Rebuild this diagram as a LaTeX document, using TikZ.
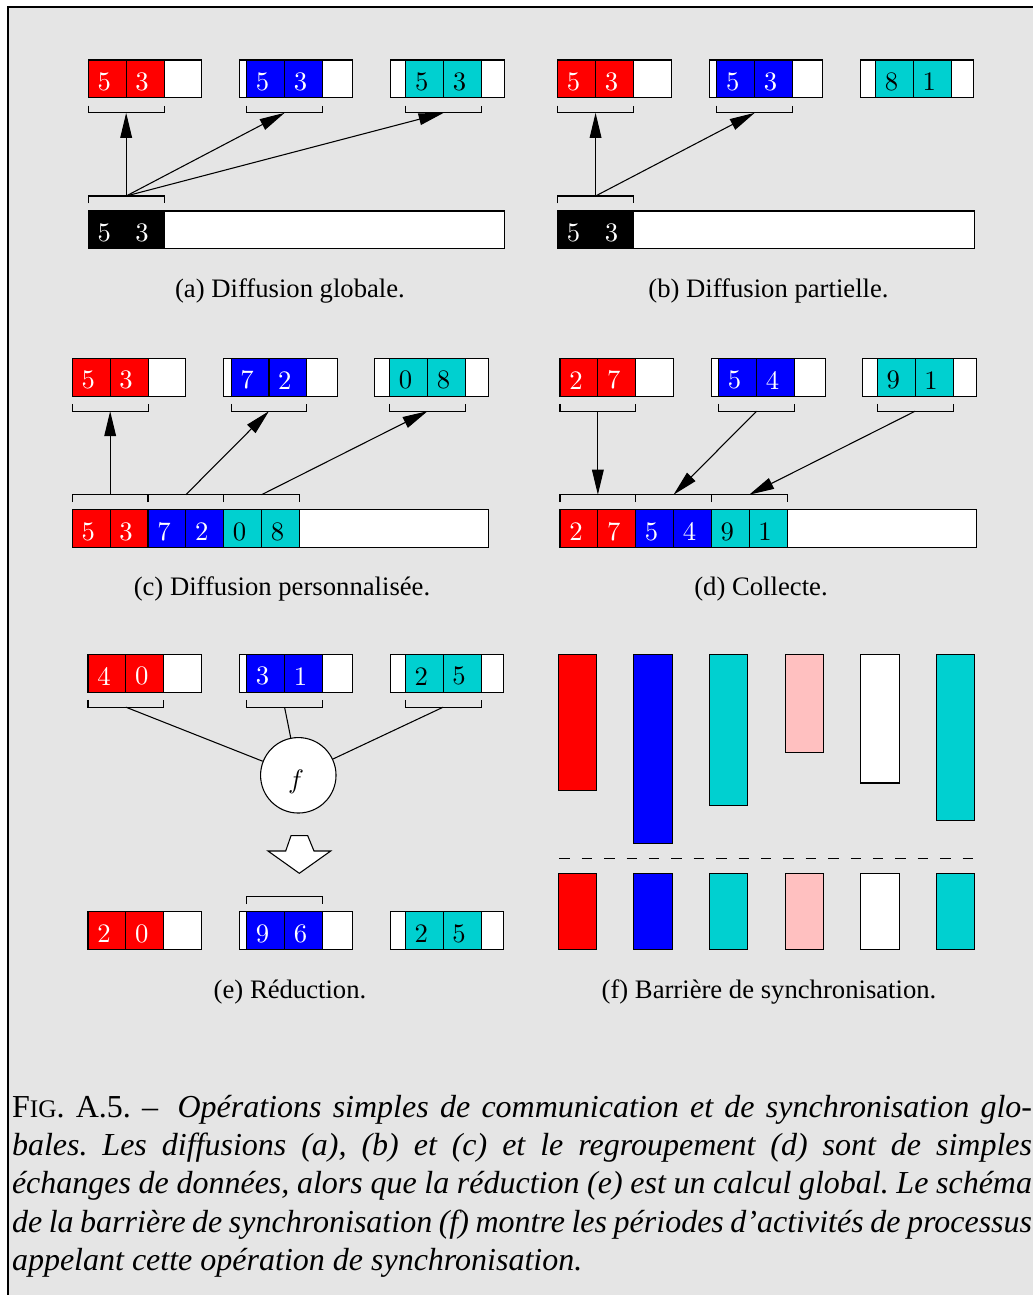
\documentclass[tikz,border=0pt]{standalone}
\usepackage{fontspec}
\setmainfont{Liberation Serif}
\usetikzlibrary{arrows.meta,positioning,calc}
\definecolor{procred}{HTML}{FF0000}
\definecolor{procblue}{HTML}{0000FF}
\definecolor{proccyan}{HTML}{00D0D0}
\definecolor{procpink}{HTML}{FFC0C0}
\definecolor{pagegray}{HTML}{E5E5E5}
\frenchspacing
\newcommand{\digitfont}{\fontfamily{lmr}\fontsize{10}{12}\selectfont}
\tikzset{
  cellbox/.style={draw,minimum width=14.2pt,minimum height=14.2pt,inner sep=0pt,outer sep=0pt,line width=0.4pt},
  bufbox/.style={cellbox,fill=white,minimum width=42.6pt,anchor=north west},
  barbox/.style={cellbox,fill=white,minimum width=156.2pt,anchor=north west},
  digit/.style={fill=none,draw=none,inner sep=0pt,font=\digitfont},
  cred/.style={fill=procred,text=white},
  cblue/.style={fill=procblue,text=white},
  ccyan/.style={fill=proccyan,text=black},
  cblack/.style={fill=black,text=white},
  brk/.style={line width=0.4pt},
  conn/.style={-{Triangle[length=9.4pt,width=4.4pt]},line width=0.4pt},
  subcap/.style={font=\fontsize{10}{12}\selectfont,anchor=base,inner sep=0pt},
  capline/.style={anchor=north west,align=left,inner sep=0pt,font=\fontsize{12}{14.4}\selectfont},
  activity/.style={draw,line width=0.4pt}
}
% two coloured cells with their values
\newcommand{\pair}[6]{%
  \node[cellbox,#4,anchor=north west] (#1a) at (#2,#3) {};
  \node[cellbox,#4,right=0pt of #1a] (#1b) {};
  \node[#4,digit] (#1da) at ($(#1a.center)+(-3,3)$) {#5};
  \node[#4,digit] (#1db) at ($(#1b.center)+(-3,3)$) {#6};
}
% a three-cell buffer holding a pair
\newcommand{\buf}[7]{%
  \node[bufbox] (#1) at (#2,#3) {};
  \pair{#1}{#2+#4}{#3}{#5}{#6}{#7}
}
\newcommand{\brkunder}[3]{%
  \draw[brk] ($(#2.south west)+(0,7.7)$) -- ++(0,7.3) -| ($(#3.south east)+(0,7.7)$);
  \coordinate (#1) at ($(#2.south west)!.5!(#3.south east)+(0,15)$);
}
\newcommand{\brkover}[3]{%
  \draw[brk] ($(#2.north west)+(0,-7.7)$) -- ++(0,-7.3) -| ($(#3.north east)+(0,-7.7)$);
  \coordinate (#1) at ($(#2.north west)!.5!(#3.north east)+(0,-15)$);
}
\begin{document}
\begin{tikzpicture}[x=0.375pt,y=-0.375pt]
  \useasboundingbox (0,0) rectangle (1033,1295);
  \fill[white] (0,0) rectangle (1033,1295);
  \fill[pagegray] (8.2,7) rectangle (1033,1295);
  \draw[line width=0.9pt] (8.2,1295) -- (8.2,7) -- (1033,7);

  % (a)
  \buf{a1}{88.3}{60}{0}{cred}{5}{3}
  \buf{a2}{239.3}{60}{7.4}{cblue}{5}{3}
  \buf{a3}{390.7}{60}{15.1}{ccyan}{5}{3}
  \brkunder{a1k}{a1a}{a1b}
  \brkunder{a2k}{a2a}{a2b}
  \brkunder{a3k}{a3a}{a3b}
  \node[barbox] (abar) at (88.3,211) {};
  \pair{ab}{88.3}{211}{cblack}{5}{3}
  \brkover{ask}{aba}{abb}
  \draw[conn] (ask) -- (a1k);
  \draw[conn] (ask) -- (a2k);
  \draw[conn] (ask) -- (a3k);
  \node[subcap] (capa) at (290,297.7) {(a) Diffusion globale.};

  % (b)
  \buf{b1}{557.7}{60}{0}{cred}{5}{3}
  \buf{b2}{709.3}{60}{7.5}{cblue}{5}{3}
  \buf{b3}{860.3}{60}{15.2}{ccyan}{8}{1}
  \brkunder{b1k}{b1a}{b1b}
  \brkunder{b2k}{b2a}{b2b}
  \node[barbox] (bbar) at (557.7,211) {};
  \pair{bb}{557.7}{211}{cblack}{5}{3}
  \brkover{bsk}{bba}{bbb}
  \draw[conn] (bsk) -- (b1k);
  \draw[conn] (bsk) -- (b2k);
  \node[subcap] (capb) at (768.5,297.7) {(b) Diffusion partielle.};

  % (c)
  \buf{c1}{72.3}{358.3}{0}{cred}{5}{3}
  \buf{c2}{223.7}{358.3}{7.4}{cblue}{7}{2}
  \buf{c3}{374.7}{358.3}{15}{ccyan}{0}{8}
  \brkunder{c1k}{c1a}{c1b}
  \brkunder{c2k}{c2a}{c2b}
  \brkunder{c3k}{c3a}{c3b}
  \node[barbox] (cbar) at (72.3,509.7) {};
  \pair{cr}{72.3}{509.7}{cred}{5}{3}
  \pair{cb}{148}{509.7}{cblue}{7}{2}
  \pair{cc}{223.7}{509.7}{ccyan}{0}{8}
  \brkover{c1s}{cra}{crb}
  \brkover{c2s}{cba}{cbb}
  \brkover{c3s}{cca}{ccb}
  \draw[conn] (c1s) -- (c1k);
  \draw[conn] (c2s) -- (c2k);
  \draw[conn] (c3s) -- (c3k);
  \node[subcap] (capc) at (282,595.7) {(c) Diffusion personnalisée.};

  % (d)
  \buf{d1}{560}{358.3}{0}{cred}{2}{7}
  \buf{d2}{711.7}{358.3}{7}{cblue}{5}{4}
  \buf{d3}{862.7}{358.3}{14.6}{ccyan}{9}{1}
  \brkunder{d1k}{d1a}{d1b}
  \brkunder{d2k}{d2a}{d2b}
  \brkunder{d3k}{d3a}{d3b}
  \node[barbox] (dbar) at (560,509.7) {};
  \pair{dr}{560}{509.7}{cred}{2}{7}
  \pair{db}{635.7}{509.7}{cblue}{5}{4}
  \pair{dc}{711.3}{509.7}{ccyan}{9}{1}
  \brkover{d1s}{dra}{drb}
  \brkover{d2s}{dba}{dbb}
  \brkover{d3s}{dca}{dcb}
  \draw[conn] (d1k) -- (d1s);
  \draw[conn] (d2k) -- (d2s);
  \draw[conn] (d3k) -- (d3s);
  \node[subcap] (capd) at (761,595.7) {(d) Collecte.};

  % (e)
  \buf{e1}{88}{654.3}{0}{cred}{4}{0}
  \buf{e2}{239.3}{654.3}{7.4}{cblue}{3}{1}
  \buf{e3}{390.3}{654.3}{15}{ccyan}{2}{5}
  \brkunder{e1k}{e1a}{e1b}
  \brkunder{e2k}{e2a}{e2b}
  \brkunder{e3k}{e3a}{e3b}
  \node[circle,draw,fill=white,minimum size=28.3pt,inner sep=0pt,line width=0.4pt,
        text height=9.6pt,text depth=0pt] (f) at (298.3,775.3) {\hspace{-1.7pt}$f$};
  \draw[brk] (e1k) -- (f);
  \draw[brk] (e2k) -- (f);
  \draw[brk] (e3k) -- (f);
  \draw[brk,fill=white] (291,835.7) -- (307.7,835.7) -- (314,851) -- (330.7,851)
        -- (299.3,873.3) -- (268,851) -- (285.7,851) -- cycle;
  \buf{r1}{88}{911.7}{0}{cred}{2}{0}
  \buf{r2}{239.3}{911.7}{7.4}{cblue}{9}{6}
  \buf{r3}{390.3}{911.7}{15}{ccyan}{2}{5}
  \brkover{r2k}{r2a}{r2b}
  \node[subcap] (cape) at (290,998.3) {(e) Réduction.};

  % (f)
  \foreach \i/\col/\len in {0/procred/136.4,1/procblue/189.4,2/proccyan/151.4,
                            3/procpink/98.4,4/white/128.7,5/proccyan/166.4}{
    \filldraw[activity,fill=\col] (558.3+75.6*\i,654.3) rectangle ++(38.4,\len);
    \filldraw[activity,fill=\col] (558.3+75.6*\i,873.7) rectangle ++(38.4,75.6);
  }
  \draw[line width=0.4pt,dash pattern=on 3.95pt off 4.45pt] (559.3,858.7) -- (974.3,858.7);
  \node[subcap] (capf) at (769,998.3) {(f) Barrière de synchronisation.};

  \node[capline] (legend) at (11.5,1089.6) {%
    \strut\makebox[382.5pt][s]{F{\fontsize{9.5}{12}\selectfont IG}. A.5. – \hspace{0.25em}\itshape Opérations simples de communication et de synchronisation glo-}\\
    \makebox[382.5pt][s]{\itshape bales. Les diffusions (a), (b) et (c) et le regroupement (d) sont de simples}\\
    \makebox[382.5pt][s]{\itshape échanges de données, alors que la réduction (e) est un calcul global. Le schéma}\\
    \makebox[382.5pt][s]{\itshape de la barrière de synchronisation (f) montre les périodes d’activités de processus}\\
    \makebox[382.5pt][l]{\itshape appelant cette opération de synchronisation.}};
\end{tikzpicture}
\end{document}
